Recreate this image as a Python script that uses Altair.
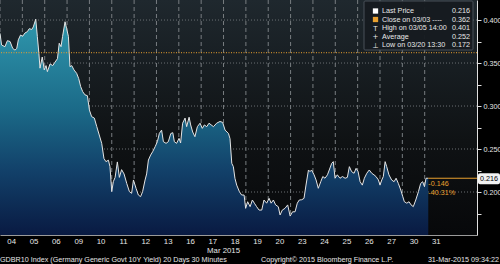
import altair as alt
import pandas as pd

# ---- data ----
day_labels = ["04", "05", "06", "09", "10", "11", "12", "13", "16", "17",
              "18", "19", "20", "23", "24", "25", "26", "27", "30", "31"]

# position in trading days since the open of 04 Mar
t_pos = [0.00, 0.07, 0.22, 0.33, 0.45, 0.57, 0.67, 0.75, 0.82, 0.92, 1.01, 1.12, 1.22, 1.31, 1.42, 1.49,
         1.60, 1.67, 1.74, 1.79, 1.89, 1.98, 2.06, 2.12, 2.24, 2.36, 2.46, 2.57, 2.65, 2.73, 2.80, 2.91,
         2.98, 3.06, 3.13, 3.21, 3.31, 3.43, 3.52, 3.61, 3.70, 3.80, 3.91, 4.00, 4.10, 4.22, 4.33, 4.44,
         4.55, 4.65, 4.74, 4.85, 4.92, 5.00, 5.07, 5.15, 5.25, 5.34, 5.44, 5.55, 5.67, 5.79, 5.89, 5.97,
         6.09, 6.19, 6.29, 6.38, 6.49, 6.56, 6.64, 6.74, 6.83, 6.94, 7.04, 7.13, 7.23, 7.31, 7.43, 7.53,
         7.64, 7.73, 7.80, 7.90, 8.01, 8.08, 8.17, 8.28, 8.35, 8.46, 8.53, 8.62, 8.72, 8.83, 8.95, 9.05,
         9.14, 9.25, 9.35, 9.55, 9.69, 9.84, 9.96, 10.07, 10.22, 10.29, 10.37, 10.44, 10.51, 10.59, 10.71,
         10.81, 10.92, 10.99, 11.08, 11.19, 11.29, 11.38, 11.48, 11.59, 11.71, 11.81, 11.93, 12.04, 12.13,
         12.23, 12.33, 12.45, 12.53, 12.63, 12.75, 12.87, 12.98, 13.09, 13.20, 13.30, 13.39, 13.50, 13.60,
         13.69, 13.80, 13.87, 13.94, 14.05, 14.14, 14.24, 14.35, 14.44, 14.54, 14.65, 14.73, 14.84, 14.91,
         14.99, 15.09, 15.21, 15.32, 15.44, 15.54, 15.63, 15.73, 15.84, 15.93, 16.02, 16.11, 16.21, 16.30,
         16.41, 16.52, 16.63, 16.73, 16.82, 16.93, 17.00, 17.08, 17.15, 17.23, 17.30, 17.40, 17.52, 17.63,
         17.72, 17.82, 17.93, 18.02, 18.09, 18.20, 18.30, 18.39, 18.49, 18.60, 18.72, 18.82, 18.91, 18.99,
         19.06, 19.16]

yield_vals = [0.3845, 0.371, 0.369, 0.376, 0.375, 0.367, 0.365, 0.367, 0.377, 0.3826, 0.381, 0.385, 0.3864,
              0.390, 0.389, 0.392, 0.401, 0.381, 0.361, 0.344, 0.357, 0.342, 0.347, 0.340, 0.349, 0.347,
              0.351, 0.355, 0.373, 0.369, 0.381, 0.398, 0.390, 0.381, 0.3457, 0.347, 0.342, 0.338, 0.332,
              0.3225, 0.3167, 0.313, 0.312, 0.2953, 0.2876, 0.286, 0.276, 0.2663, 0.2566, 0.239, 0.2353,
              0.237, 0.2294, 0.2004, 0.212, 0.217, 0.235, 0.217, 0.226, 0.221, 0.210, 0.2004, 0.1985, 0.214,
              0.204, 0.1965, 0.1946, 0.2004, 0.214, 0.221, 0.2372, 0.243, 0.2469, 0.2527, 0.2585, 0.2682,
              0.272, 0.2585, 0.2566, 0.2585, 0.268, 0.269, 0.2585, 0.2566, 0.2624, 0.257, 0.280, 0.286,
              0.276, 0.287, 0.278, 0.2698, 0.2643, 0.276, 0.280, 0.274, 0.278, 0.276, 0.280, 0.276, 0.280,
              0.282, 0.281, 0.272, 0.2682, 0.262, 0.2333, 0.2295, 0.216, 0.208, 0.2004, 0.1965, 0.1965,
              0.181, 0.1887, 0.1829, 0.1907, 0.187, 0.183, 0.179, 0.179, 0.1907, 0.187, 0.1926, 0.187,
              0.1907, 0.185, 0.1829, 0.1733, 0.179, 0.181, 0.185, 0.172, 0.177, 0.177, 0.187, 0.1907, 0.191,
              0.1926, 0.2081, 0.2256, 0.2237, 0.2256, 0.220, 0.214, 0.2043, 0.212, 0.218, 0.216, 0.220,
              0.2256, 0.2333, 0.2353, 0.216, 0.220, 0.216, 0.218, 0.216, 0.217, 0.2295, 0.2237, 0.2218,
              0.2275, 0.2237, 0.212, 0.208, 0.216, 0.2218, 0.2256, 0.2218, 0.220, 0.218, 0.214, 0.208, 0.214,
              0.218, 0.2353, 0.2295, 0.220, 0.214, 0.212, 0.216, 0.210, 0.2023, 0.1946, 0.1887, 0.187,
              0.1887, 0.185, 0.183, 0.1907, 0.2004, 0.210, 0.212, 0.2062, 0.216, 0.216]

close_ref = 0.362
legend_labels = ["Last Price", "Close on 03/03 ----", "High on 03/05 14:00", "Average", "Low on 03/20 13:30"]
legend_values = ["0.216", "0.362", "0.401", "0.252", "0.172"]
change_labels = ["-0.146", "-40.31%"]
y_ticks = [0.175, 0.200, 0.225, 0.250, 0.275, 0.300, 0.325, 0.350, 0.375, 0.400]
grid_levels = [0.200, 0.250, 0.300, 0.350, 0.400]
day_bounds = list(range(0, 20))
footer_left = "GDBR10 Index (Germany Generic Govt 10Y Yield) 20 Days 30 Minutes"
footer_mid = "Copyright\u00a9 2015 Bloomberg Finance L.P."
footer_right = "31-Mar-2015 09:34:22"

X_MAX = 21.34
Y_MIN, Y_MAX = 0.150, 0.4233
FONT = "Liberation Sans"
FS = 7.2
ORANGE = "#e9a02f"
TXT = "#e6e6e6"

df = pd.DataFrame({"t": t_pos, "v": yield_vals})
last_t, last_v = t_pos[-1], yield_vals[-1]

xs = alt.Scale(domain=[0, X_MAX], nice=False, zero=False)
ys = alt.Scale(domain=[Y_MIN, Y_MAX], nice=False, zero=False)

label_expr = "[" + ",".join("'%s'" % d for d in day_labels) + "][floor(datum.value)]"
XAX = alt.Axis(values=[i + 0.5 for i in range(len(day_labels))], labelExpr=label_expr, title=None,
               ticks=False, grid=False, domainColor="#9a9a9a", domainWidth=1,
               labelColor=TXT, labelFontSize=7.8, labelFont=FONT, labelPadding=2.5,
               labelOverlap=False, labelFlush=False)
YAX = alt.Axis(orient="right", values=y_ticks, title=None,
               labelExpr="(round(datum.value*1000) % 50 == 0) ? format(datum.value, '.3f') : ''",
               grid=False, domainColor="#e0e0e0", tickColor="#e0e0e0", tickSize=4,
               labelColor=TXT, labelFontSize=FS, labelFont=FONT, labelPadding=2, labelOverlap=False)

one = pd.DataFrame({"a": [0]})

bg = alt.Chart(one).mark_rect(
    color=alt.Gradient(gradient="linear", x1=0, x2=0, y1=0, y2=1,
                       stops=[alt.GradientStop(offset=0, color="#1f282e"),
                              alt.GradientStop(offset=0.6, color="#0f1214"),
                              alt.GradientStop(offset=1, color="#07080a")])
).encode(x=alt.value(0), x2=alt.value("width"), y=alt.value(0), y2=alt.value("height"))

area = alt.Chart(df).mark_area(
    color=alt.Gradient(gradient="linear", x1=0, x2=0, y1=0, y2=1,
                       stops=[alt.GradientStop(offset=0, color="#2f97ad"),
                              alt.GradientStop(offset=0.42, color="#1b6a88"),
                              alt.GradientStop(offset=0.7, color="#12416a"),
                              alt.GradientStop(offset=1, color="#091a42")])
).encode(
    x=alt.X("t:Q", scale=xs, axis=XAX),
    y=alt.Y("v:Q", scale=ys, axis=YAX),
    y2=alt.datum(Y_MIN),
)

hgrid = alt.Chart(pd.DataFrame({"lvl": grid_levels})).mark_rule(
    color="#6a6f73", strokeDash=[1, 2], strokeWidth=1
).encode(y=alt.Y("lvl:Q", scale=ys, axis=YAX))

vgrid = alt.Chart(pd.DataFrame({"d": day_bounds})).mark_rule(
    color="#787d81", strokeDash=[4, 3], strokeWidth=1
).encode(x=alt.X("d:Q", scale=xs, axis=XAX))

line = alt.Chart(df).mark_line(color="#e4e4e4", strokeWidth=1).encode(
    x=alt.X("t:Q", scale=xs, axis=XAX), y=alt.Y("v:Q", scale=ys, axis=YAX))

close_rule = alt.Chart(one).mark_rule(color=ORANGE, strokeDash=[1, 1.5], strokeWidth=1).encode(
    y=alt.datum(close_ref, scale=ys, axis=YAX))

last_rule = alt.Chart(one).mark_rule(color=ORANGE, strokeWidth=1).encode(
    x=alt.datum(last_t, axis=XAX), x2=alt.value("width"), y=alt.datum(last_v, axis=YAX))

chg1 = alt.Chart(one).mark_text(text=change_labels[0], color=ORANGE, font=FONT, fontSize=FS,
                                align="left", baseline="middle", dx=0, dy=6).encode(
    x=alt.datum(last_t, axis=XAX), y=alt.datum(last_v, axis=YAX))
chg2 = alt.Chart(one).mark_text(text=change_labels[1], color=ORANGE, font=FONT, fontSize=FS,
                                align="left", baseline="middle", dx=0, dy=15).encode(
    x=alt.datum(last_t, axis=XAX), y=alt.datum(last_v, axis=YAX))

last_box = alt.Chart(one).mark_rect(color="#f2f2f2", cornerRadius=2, yOffset=-5, y2Offset=6).encode(
    x=alt.value(478), x2=alt.value(500), y=alt.datum(last_v, axis=YAX), y2=alt.datum(last_v))
last_txt = alt.Chart(one).mark_text(text=legend_values[0], color="#000000", font=FONT, fontSize=FS,
                                    align="center", baseline="middle", dy=0.5).encode(
    x=alt.value(489), y=alt.datum(last_v, axis=YAX))

mar = alt.Chart(one).mark_text(text="Mar 2015", color=TXT, font=FONT, fontSize=7.8,
                               align="center", baseline="middle").encode(
    x=alt.datum(10, axis=XAX), y=alt.value(251))

f1 = alt.Chart(one).mark_text(text=footer_left, color=TXT, font=FONT, fontSize=FS,
                              align="left", baseline="middle").encode(x=alt.value(0), y=alt.value(259.5))
f2 = alt.Chart(one).mark_text(text=footer_mid, color=TXT, font=FONT, fontSize=FS,
                              align="left", baseline="middle").encode(x=alt.value(261), y=alt.value(259.5))
f3 = alt.Chart(one).mark_text(text=footer_right, color=TXT, font=FONT, fontSize=FS,
                              align="right", baseline="middle").encode(x=alt.value(499), y=alt.value(259.5))

leg_box = alt.Chart(one).mark_rect(color="#161b20", opacity=0.96, stroke="#4a525a", strokeWidth=1,
                                   cornerRadius=1).encode(
    x=alt.value(364), x2=alt.value(473), y=alt.value(1), y2=alt.value(50))
leg_txt = alt.Chart(one).mark_text(text=legend_labels, color="#e8e8e8", font=FONT, fontSize=FS,
                                   lineHeight=8.5, align="left", baseline="top").encode(
    x=alt.value(382), y=alt.value(7))
leg_val = alt.Chart(one).mark_text(text=legend_values, color="#e8e8e8", font=FONT, fontSize=FS,
                                   lineHeight=8.5, align="right", baseline="top").encode(
    x=alt.value(470), y=alt.value(7))
sq_w = alt.Chart(one).mark_square(color="#ffffff", size=28, opacity=1).encode(
    x=alt.value(375.5), y=alt.value(11))
sq_o = alt.Chart(one).mark_square(color=ORANGE, size=28, opacity=1).encode(
    x=alt.value(375.5), y=alt.value(19.5))
icons = alt.Chart(one).mark_text(text=["T", "+", "\u22a5"], color="#e8e8e8", font="DejaVu Sans",
                                 fontSize=7, lineHeight=8.5, align="center", baseline="top").encode(
    x=alt.value(375.5), y=alt.value(24.5))

chart = alt.layer(
    bg, hgrid, vgrid, area, line, close_rule, last_rule, chg1, chg2, last_box, last_txt,
    mar, f1, f2, f3, leg_box, leg_txt, leg_val, sq_w, sq_o, icons
).properties(
    width=477, height=235,
    autosize=alt.AutoSizeParams(type="none"),
    padding={"left": 0, "top": 0, "right": 23, "bottom": 29},
    background="#000000",
).configure_view(stroke=None)

chart.save("out.html", embed_options={"renderer": "svg", "actions": False})
